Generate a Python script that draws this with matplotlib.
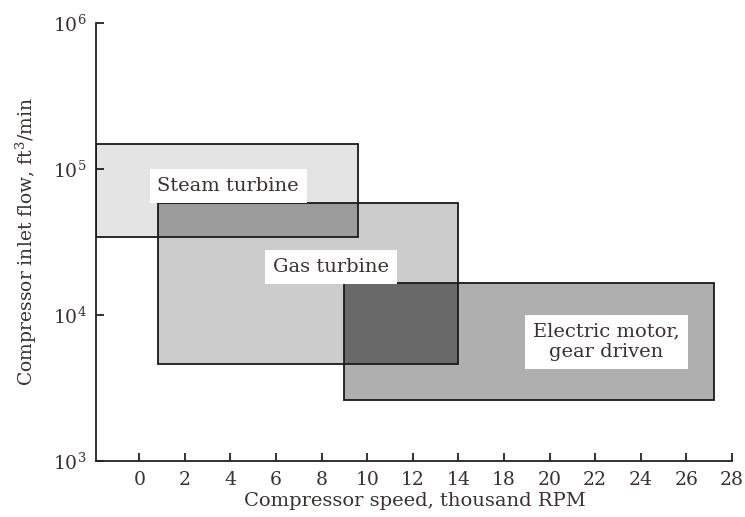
import matplotlib
matplotlib.use("Agg")
import matplotlib.pyplot as plt
from matplotlib.patches import Rectangle

# Tick labels on the speed axis, as printed (evenly spaced, 16 is absent)
speed_tick_labels = ["0", "2", "4", "6", "8", "10", "12", "14", "18", "20", "22", "24", "26", "28"]

# Operating regions in axis units (x: position along the printed speed scale, y: ft3/min)
drivers = ["Steam turbine", "Gas turbine", "Electric motor,\ngear driven"]
x_low = [-1.9, 0.8, 9.0]
x_high = [9.6, 14.0, 25.2]
flow_low = [3.4e4, 4.6e3, 2.62e3]
flow_high = [1.48e5, 5.85e4, 1.65e4]

fills = ["#e4e4e4", "#cccccc", "#afafaf"]
overlap_fills = {(0, 1): "#9b9b9b", (1, 2): "#696969"}
text_color = "#3a3030"

plt.rcParams["font.family"] = ["DejaVu Serif"]
plt.rcParams["mathtext.fontset"] = "dejavuserif"

fig = plt.figure(figsize=(7.45, 5.17), dpi=100)
ax = fig.add_axes([0.1289, 0.1083, 0.855, 0.8472])
ax.set_yscale("log")
ax.set_xlim(-1.9, 26.05)
ax.set_ylim(1e3, 1e6)

# filled regions
for i in range(len(drivers)):
    ax.add_patch(Rectangle((x_low[i], flow_low[i]), x_high[i] - x_low[i],
                           flow_high[i] - flow_low[i], facecolor=fills[i],
                           edgecolor="none", zorder=1))
# overlaps
for (i, j), c in overlap_fills.items():
    xl = max(x_low[i], x_low[j]); xh = min(x_high[i], x_high[j])
    yl = max(flow_low[i], flow_low[j]); yh = min(flow_high[i], flow_high[j])
    if xh > xl and yh > yl:
        ax.add_patch(Rectangle((xl, yl), xh - xl, yh - yl, facecolor=c,
                               edgecolor="none", zorder=2))
# outlines
for i in range(len(drivers)):
    ax.add_patch(Rectangle((x_low[i], flow_low[i]), x_high[i] - x_low[i],
                           flow_high[i] - flow_low[i], facecolor="none",
                           edgecolor="#1a1a1a", lw=1.3, zorder=3))

label_pos = [(3.9, 7.65e4), (8.4, 2.13e4), (20.5, 6.53e3)]
for name, (lx, ly) in zip(drivers, label_pos):
    ax.text(lx, ly, name, ha="center", va="center", fontsize=14,
            color=text_color, linespacing=1.2, zorder=4,
            bbox=dict(boxstyle="square,pad=0.4", facecolor="white", edgecolor="none"))

ax.set_xticks(range(0, 2 * len(speed_tick_labels), 2))
ax.set_xticklabels(speed_tick_labels)
ax.set_yticks([1e3, 1e4, 1e5, 1e6])
ax.minorticks_off()

for s in ["top", "right"]:
    ax.spines[s].set_visible(False)
for s in ["left", "bottom"]:
    ax.spines[s].set_linewidth(1.3)
    ax.spines[s].set_color("#222222")
ax.spines["bottom"].set_bounds(-1.9, 26)

ax.tick_params(direction="in", length=6, width=1.3, color="#222222",
               labelsize=13.5, labelcolor=text_color, pad=7)
ax.set_xlabel("Compressor speed, thousand RPM", fontsize=14, color=text_color, labelpad=2)
ax.set_ylabel("Compressor inlet flow, ft$^3$/min", fontsize=13.5, color=text_color, labelpad=10)

fig.savefig("out.png", dpi=100)
